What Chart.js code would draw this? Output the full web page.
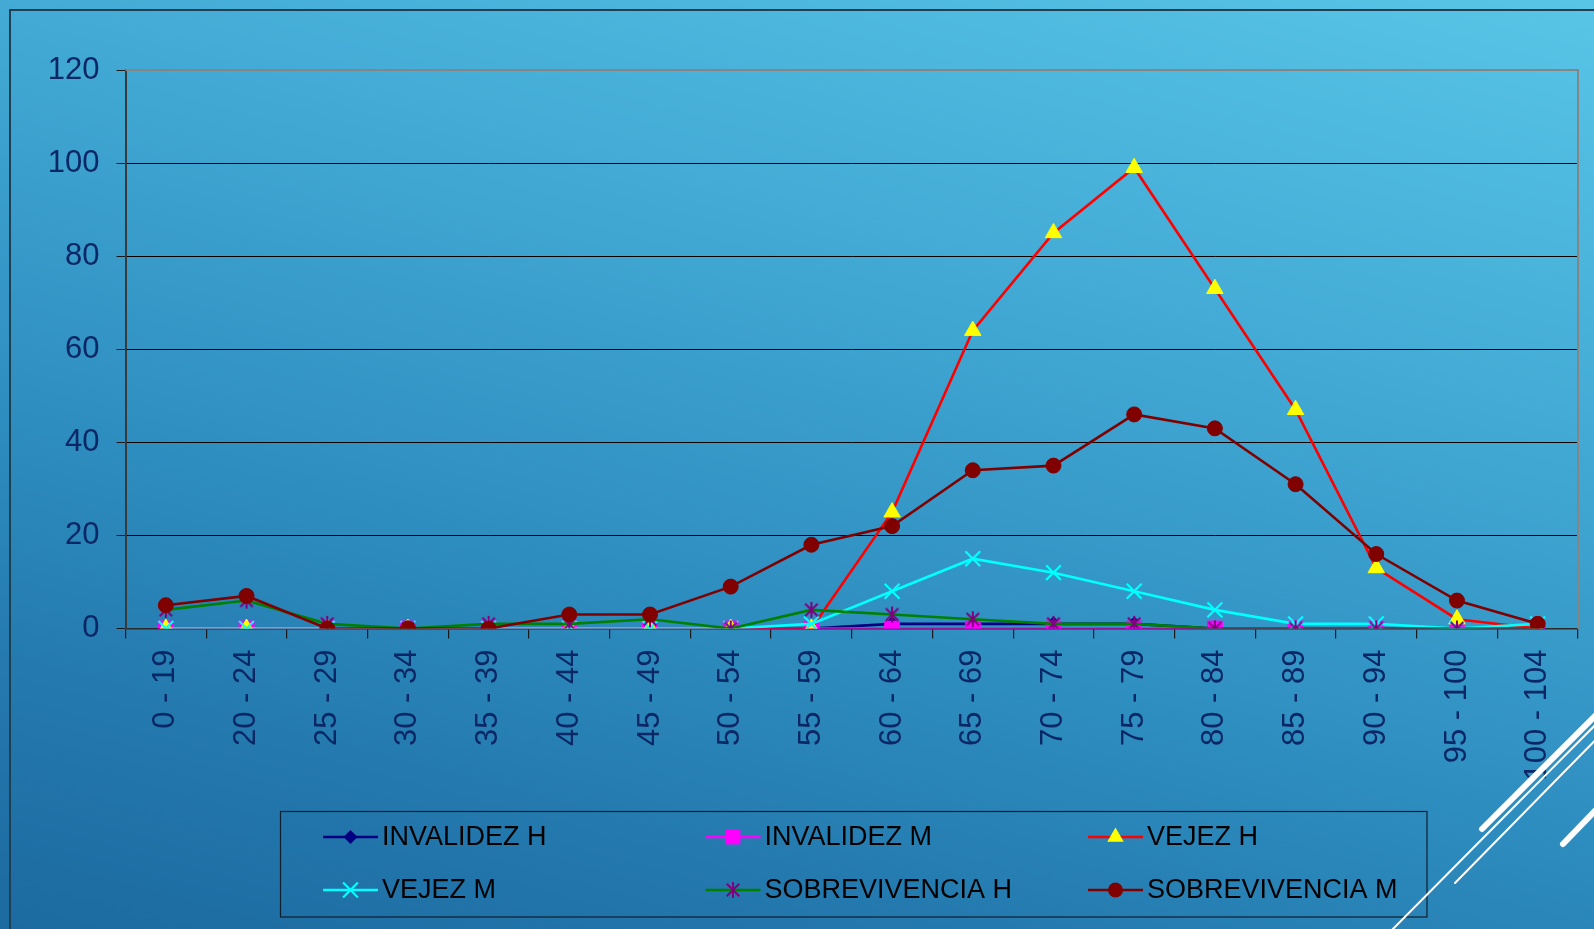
<!DOCTYPE html>
<html>
<head>
<meta charset="utf-8">
<script src="https://cdn.jsdelivr.net/npm/chart.js@4.4.1/dist/chart.umd.min.js"></script>
<style>
  html, body { margin: 0; padding: 0; width: 1594px; height: 929px; overflow: hidden; }
  body { background: linear-gradient(195deg, #58c5e6 0%, #44acd6 30%, #2f8fc1 60%, #2378ad 82%, #1c6aa0 100%); position: relative; }
  #frame { position: absolute; left: 9px; top: 9px; width: 2000px; height: 2000px; border-left: 2px solid #1f3f52; border-top: 2px solid #1f3f52; }
  #c { position: absolute; left: 0; top: 0; }
  #deco { position: absolute; left: 0; top: 0; }
</style>
</head>
<body>
<div id="frame"></div>
<canvas id="c" width="1594" height="929"></canvas>
<svg id="deco" width="1594" height="929">
  <g stroke="#ffffff" stroke-linecap="round" fill="none">
    <line x1="1482" y1="829" x2="1620" y2="691" stroke-width="6"/>
    <line x1="1383" y1="939" x2="1620" y2="700" stroke-width="2"/>
    <line x1="1455" y1="883" x2="1620" y2="715" stroke-width="2"/>
    <line x1="1563" y1="844" x2="1620" y2="785" stroke-width="6"/>
  </g>
</svg>
<script>
const categories = ['0 - 19','20 - 24','25 - 29','30 - 34','35 - 39','40 - 44','45 - 49','50 - 54','55 - 59','60 - 64','65 - 69','70 - 74','75 - 79','80 - 84','85 - 89','90 - 94','95 - 100','100 - 104'];
const invalidezH     = [0,0,0,0,0,0,0,0,0,1,1,1,1,0,0,0,0,0];
const invalidezM     = [0,0,0,0,0,0,0,0,0,0,0,0,0,0,0,0,0,0];
const vejezH         = [0,0,0,0,0,0,0,0,0,25,64,85,99,73,47,13,2,0];
const vejezM         = [0,0,0,0,0,0,0,0,1,8,15,12,8,4,1,1,0,1];
const sobrevivenciaH = [4,6,1,0,1,1,2,0,4,3,2,1,1,0,0,0,0,0];
const sobrevivenciaM = [5,7,0,0,0,3,3,9,18,22,34,35,46,43,31,16,6,1];
const yTicks = [0,20,40,60,80,100,120];

const FONT = '"Liberation Sans", Arial, sans-serif';
const NAVY_TEXT = '#0b2766';

function makeStar(color, size, lw) {
  const c = document.createElement('canvas');
  c.width = c.height = size;
  const g = c.getContext('2d');
  g.strokeStyle = color; g.lineWidth = lw; g.lineCap = 'butt';
  const h = size / 2, r = h - 1, d = r * 0.78;
  g.beginPath();
  g.moveTo(h, h - r); g.lineTo(h, h + r);
  g.moveTo(h - d, h - d); g.lineTo(h + d, h + d);
  g.moveTo(h - d, h + d); g.lineTo(h + d, h - d);
  g.stroke();
  return c;
}
const starImg = makeStar('#800080', 18, 2);

const series = [
  {label:'INVALIDEZ H', data: invalidezH, line:'#000080', fill:'#000080', style:'rectRot', r:7},
  {label:'INVALIDEZ M', data: invalidezM, line:'#ff00ff', fill:'#ff00ff', style:'rect', r:10.5},
  {label:'VEJEZ H', data: vejezH, line:'#ff0000', fill:'#ffff00', style:'triangle', r:9.5},
  {label:'VEJEZ M', data: vejezM, line:'#00ffff', fill:'#00ffff', style:'crossRot', r:10.5},
  {label:'SOBREVIVENCIA H', data: sobrevivenciaH, line:'#008000', fill:'#800080', style:'star', r:9},
  {label:'SOBREVIVENCIA M', data: sobrevivenciaM, line:'#800000', fill:'#800000', style:'circle', r:7.5}
];

const datasets = series.map((s, i) => ({
  label: s.label,
  data: s.data,
  borderColor: s.line,
  backgroundColor: s.fill,
  borderWidth: 2.6,
  tension: 0,
  pointStyle: s.style === 'star' ? starImg : s.style,
  pointRadius: s.r,
  pointHoverRadius: s.r,
  pointBackgroundColor: s.fill,
  pointBorderColor: s.fill,
  pointBorderWidth: s.style === 'crossRot' ? 2.2 : 1,
  order: series.length - i
}));

function drawMarker(ctx, s, x, y) {
  ctx.save();
  ctx.fillStyle = s.fill; ctx.strokeStyle = s.fill;
  const r = s.r;
  ctx.beginPath();
  if (s.style === 'rectRot') {
    ctx.moveTo(x, y - r); ctx.lineTo(x + r, y); ctx.lineTo(x, y + r); ctx.lineTo(x - r, y); ctx.closePath(); ctx.fill();
  } else if (s.style === 'rect') {
    const h = r * Math.SQRT1_2; ctx.fillRect(x - h, y - h, 2 * h, 2 * h);
  } else if (s.style === 'triangle') {
    ctx.moveTo(x, y - r); ctx.lineTo(x + r * 0.866, y + r * 0.5); ctx.lineTo(x - r * 0.866, y + r * 0.5); ctx.closePath(); ctx.fill();
  } else if (s.style === 'crossRot') {
    const h = r * Math.SQRT1_2; ctx.lineWidth = 2.2;
    ctx.moveTo(x - h, y - h); ctx.lineTo(x + h, y + h); ctx.moveTo(x - h, y + h); ctx.lineTo(x + h, y - h); ctx.stroke();
  } else if (s.style === 'star') {
    ctx.drawImage(starImg, x - starImg.width / 2, y - starImg.height / 2);
  } else {
    ctx.arc(x, y, r, 0, Math.PI * 2); ctx.fill();
  }
  ctx.restore();
}

const framePlugin = {
  id: 'framePlugin',
  beforeDatasetsDraw(chart) {
    const a = chart.chartArea, ctx = chart.ctx;
    ctx.save();
    ctx.strokeStyle = '#858585'; ctx.lineWidth = 2;
    ctx.beginPath();
    ctx.moveTo(a.left, a.top); ctx.lineTo(a.right, a.top); ctx.lineTo(a.right, a.bottom);
    ctx.stroke();
    ctx.restore();
  },
  afterDraw(chart) {
    const ctx = chart.ctx;
    ctx.save();
    ctx.strokeStyle = '#0f1f2c'; ctx.lineWidth = 1.2;
    ctx.strokeRect(280.5, 811.5, 1146.5, 105.5);
    ctx.font = '27px ' + FONT;
    ctx.textBaseline = 'middle'; ctx.textAlign = 'left';
    series.forEach((s, i) => {
      const col = i % 3, row = Math.floor(i / 3);
      const x0 = 323 + col * 382.5;
      const y = 837 + row * 53;
      ctx.strokeStyle = s.line; ctx.lineWidth = 2.6;
      ctx.beginPath(); ctx.moveTo(x0, y); ctx.lineTo(x0 + 55, y); ctx.stroke();
      drawMarker(ctx, s, x0 + 27.5, y);
      ctx.fillStyle = '#000000';
      ctx.fillText(s.label, x0 + 59, y + 1);
    });
    ctx.restore();
  }
};

new Chart(document.getElementById('c'), {
  type: 'line',
  data: { labels: categories, datasets },
  options: {
    responsive: false,
    animation: false,
    devicePixelRatio: 1,
    layout: { padding: { top: 70, right: 16, left: 0, bottom: 0 } },
    plugins: { legend: { display: false }, tooltip: { enabled: false } },
    scales: {
      x: {
        type: 'category',
        offset: true,
        grid: { offset: true, drawOnChartArea: false, drawTicks: true, tickLength: 10, color: '#1a1a1a', lineWidth: 1.2 },
        border: { color: '#2a2a2a', width: 1.5 },
        ticks: { autoSkip: false, minRotation: 90, maxRotation: 90, padding: 11, color: NAVY_TEXT, font: { family: FONT, size: 31 } },
        afterFit(scale) { scale.height = 300.5; }
      },
      y: {
        min: 0, max: 120,
        afterBuildTicks(scale) { scale.ticks = yTicks.map(v => ({ value: v })); },
        grid: {
          color: (c) => (c.tick && c.tick.value === 120) ? 'rgba(0,0,0,0)' : '#000000',
          lineWidth: 1,
          tickLength: 9,
          tickColor: '#1a1a1a'
        },
        border: { color: '#3a3a3a', width: 2 },
        ticks: { padding: 17, color: NAVY_TEXT, font: { family: FONT, size: 31 } },
        afterFit(scale) { scale.width = 125.5; }
      }
    }
  },
  plugins: [framePlugin]
});
</script>
</body>
</html>
